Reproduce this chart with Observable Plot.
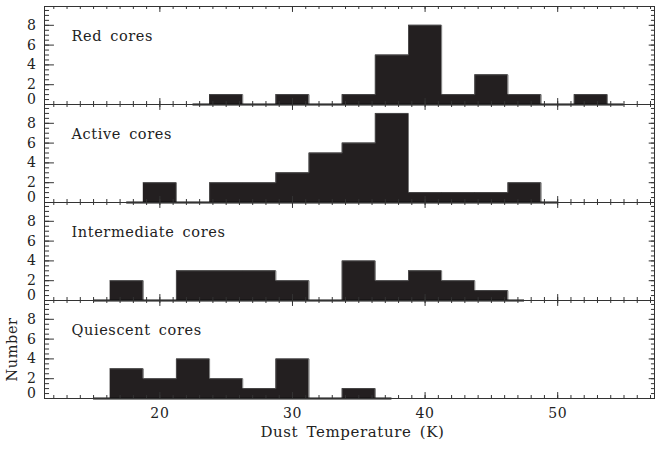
<!DOCTYPE html>
<html><head><meta charset="utf-8">
<script src="https://cdn.jsdelivr.net/npm/d3@7"></script>
<script src="https://cdn.jsdelivr.net/npm/@observablehq/plot@0.6"></script>
<style>
body{margin:0;background:#fff;}
svg{display:block;}
svg text{letter-spacing:0.6px;word-spacing:3px;}
</style>
</head><body><div id="chart"></div>
<script>
const panels = ["Red cores", "Active cores", "Intermediate cores", "Quiescent cores"];
const binStarts = [16.25, 18.75, 21.25, 23.75, 26.25, 28.75, 31.25, 33.75, 36.25, 38.75, 41.25, 43.75, 46.25, 48.75, 51.25];
const binWidth = 2.5;
const redCounts          = [0, 0, 0, 1, 0, 1, 0, 1, 5, 8, 1, 3, 1, 0, 1];
const activeCounts       = [0, 2, 0, 2, 2, 3, 5, 6, 9, 1, 1, 1, 2, 0, 0];
const intermediateCounts = [2, 0, 3, 3, 3, 2, 0, 4, 2, 3, 2, 1, 0, 0, 0];
const quiescentCounts    = [3, 2, 4, 2, 1, 4, 0, 1, 0, 0, 0, 0, 0, 0, 0];
const xMajor = [20, 30, 40, 50];
const yMajor = [2, 4, 6, 8];
const yZero = [0];

const xDomain = [11.3, 57.3];
const yDomain = [0, 9.9];
const xMinor = d3.range(12, 58, 1);
const yMinor = d3.range(0, 10, 0.5);

const countsByPanel = [redCounts, activeCounts, intermediateCounts, quiescentCounts];
const steps = [];
const baselines = [];
panels.forEach((p, i) => {
  const c = countsByPanel[i];
  let first = -1, last = -1;
  c.forEach((v, j) => { if (v > 0) { if (first < 0) first = j; last = j; } });
  for (let j = first; j <= last; j++) steps.push({panel: p, x: binStarts[j], count: c[j]});
  steps.push({panel: p, x: binStarts[last] + binWidth, count: 0});
  baselines.push({panel: p, x1: binStarts[first] - binWidth / 2, x2: binStarts[last] + binWidth * 1.5});
});

const ink = "#231f20";
const axisInk = "#333";
const xl = xDomain[0], xh = xDomain[1], yt = yDomain[1];

const chart = Plot.plot({
  width: 660,
  height: 449,
  marginLeft: 44,
  marginRight: 6,
  marginTop: 5,
  marginBottom: 51,
  style: {fontFamily: "DejaVu Serif", fontSize: "14px", color: "#222", background: "#fff"},
  x: {domain: xDomain, ticks: xMajor, tickSize: 0, tickPadding: 10, label: null},
  y: {domain: yDomain, ticks: yMajor, tickSize: 0, tickPadding: 8, label: null},
  fy: {domain: panels, padding: 0, axis: null, label: null},
  marks: [
    Plot.areaY(steps, {x: "x", y: "count", fy: "panel", z: "panel", curve: "step-after", fill: ink}),
    Plot.lineY(steps, {x: "x", y: "count", fy: "panel", z: "panel", curve: "step-after", stroke: "#555", strokeWidth: 0.8}),
    Plot.ruleY(baselines, {y: 0, x1: "x1", x2: "x2", fy: "panel", stroke: "#111", strokeWidth: 2}),
    // x ticks (inward) on bottom and top of each panel
    Plot.ruleX(xMinor, {x: d => d, y1: 0, y2: 0.3, stroke: axisInk}),
    Plot.ruleX(xMinor, {x: d => d, y1: yt, y2: yt - 0.3, stroke: axisInk}),
    Plot.ruleX(xMajor, {x: d => d, y1: 0, y2: 0.6, stroke: axisInk}),
    Plot.ruleX(xMajor, {x: d => d, y1: yt, y2: yt - 0.6, stroke: axisInk}),
    // y ticks left and right
    Plot.ruleY(yMinor, {y: d => d, x1: xl, x2: xl + 0.38, stroke: axisInk}),
    Plot.ruleY(yMajor, {y: d => d, x1: xl, x2: xl + 0.75, stroke: axisInk}),
    Plot.ruleY(yMinor, {y: d => d, x1: xh - 0.23, x2: xh, stroke: axisInk}),
    Plot.ruleY(yMajor, {y: d => d, x1: xh - 0.4, x2: xh, stroke: axisInk}),
    Plot.text(yZero, {y: d => d, frameAnchor: "left", text: d => String(d), textAnchor: "end", dx: -8, dy: -5, fill: "#222"}),
    Plot.frame({stroke: axisInk}),
    Plot.text(panels, {fy: d => d, text: d => d, frameAnchor: "top-left", dx: 27, dy: 30, lineAnchor: "middle", textAnchor: "start", fill: "#222", fontSize: 14.5}),
    Plot.text(["Number"], {fy: () => "Quiescent cores", text: d => d, frameAnchor: "left", textAnchor: "middle", rotate: -90, dx: -32, fill: "#222", fontSize: 14.5}),
    Plot.text(["Dust Temperature (K)"], {fy: () => "Quiescent cores", text: d => d, frameAnchor: "bottom", textAnchor: "middle", dx: 3, dy: 38, fill: "#222", fontSize: 15})
  ]
});
document.getElementById("chart").appendChild(chart);
</script>
</body></html>
